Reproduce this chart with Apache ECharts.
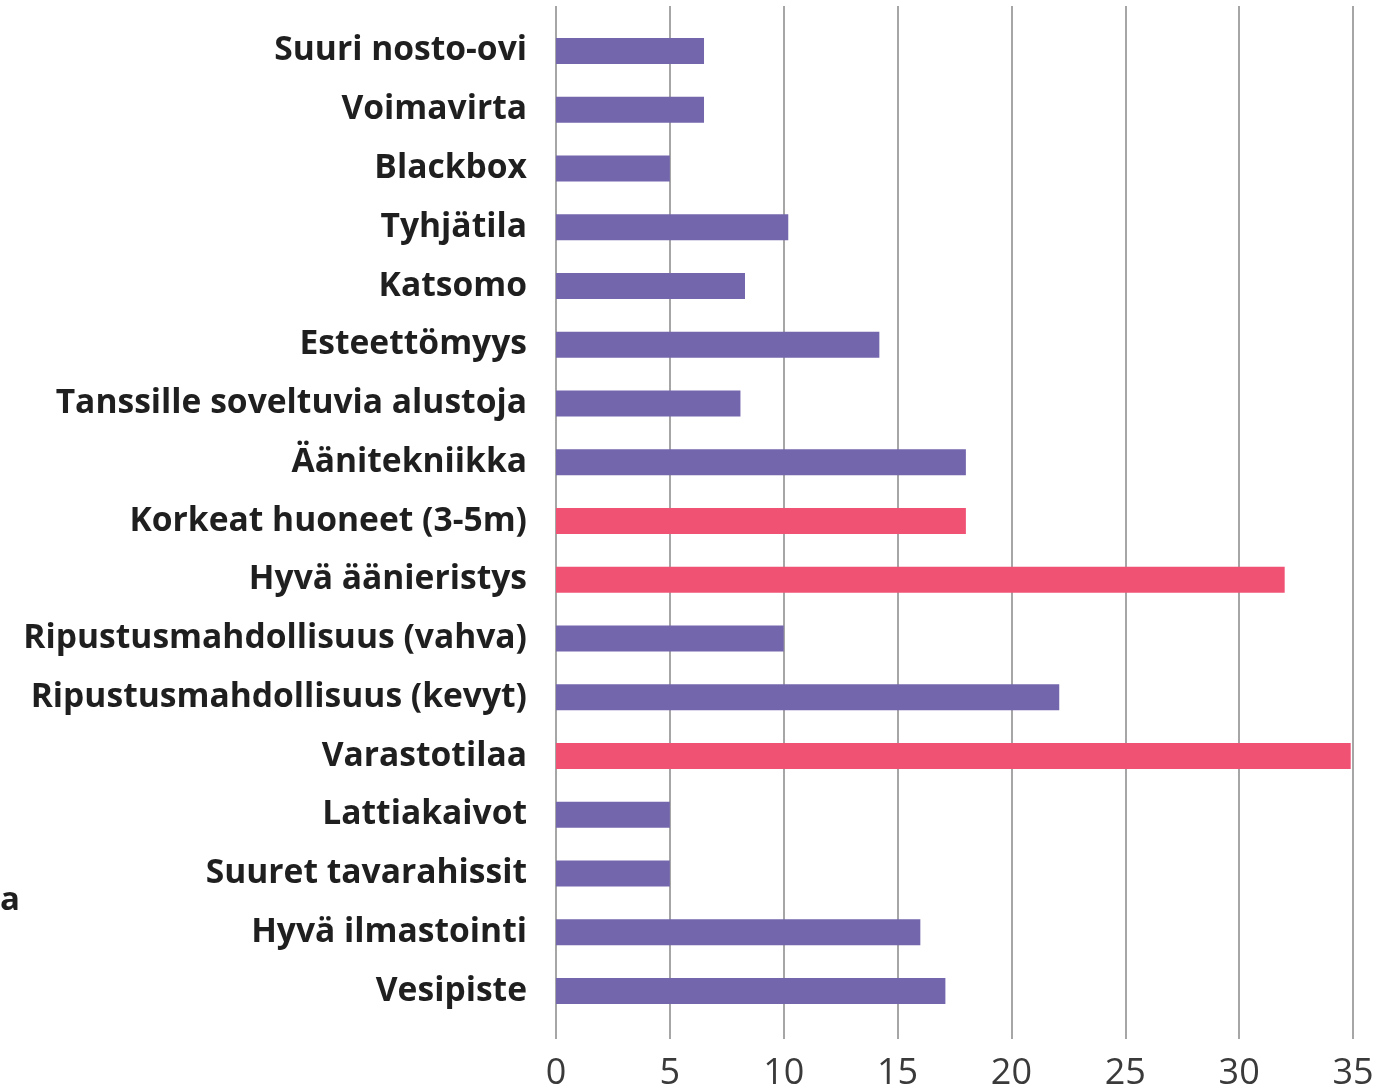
<!DOCTYPE html>
<html>
<head>
<meta charset="utf-8">
<script src="https://cdn.jsdelivr.net/npm/echarts@6/dist/echarts.min.js"></script>
<style>
  html, body { margin: 0; padding: 0; background: #fff; }
  #chart { width: 1391px; height: 1092px; }
</style>
</head>
<body>
<div id="chart"></div>
<script>
// Categories, top to bottom
const categories = [
  'Suuri nosto-ovi',
  'Voimavirta',
  'Blackbox',
  'Tyhjätila',
  'Katsomo',
  'Esteettömyys',
  'Tanssille soveltuvia alustoja',
  'Äänitekniikka',
  'Korkeat huoneet (3-5m)',
  'Hyvä äänieristys',
  'Ripustusmahdollisuus (vahva)',
  'Ripustusmahdollisuus (kevyt)',
  'Varastotilaa',
  'Lattiakaivot',
  'Suuret tavarahissit',
  'Hyvä ilmastointi',
  'Vesipiste'
];
const values = [6.5, 6.5, 5, 10.2, 8.3, 14.2, 8.1, 18, 18, 32, 10, 22.1, 34.9, 5, 5, 16, 17.1];
// highlighted categories drawn in red
const highlighted = ['Korkeat huoneet (3-5m)', 'Hyvä äänieristys', 'Varastotilaa'];
const xTicks = [0, 5, 10, 15, 20, 25, 30, 35];

const purple = '#7466ad';
const red = '#f05274';

const barData = values.map((v, i) => ({
  value: v,
  itemStyle: { color: highlighted.includes(categories[i]) ? red : purple }
}));

const chart = echarts.init(document.getElementById('chart'));

chart.setOption({
  animation: false,
  grid: [
    // grid for the vertical lines and x labels
    { left: 556, right: 38, top: 6, bottom: 50 },
    // grid for bars and category labels
    { left: 556, right: 38, top: 21.5, bottom: 71.5 }
  ],
  xAxis: [
    {
      gridIndex: 0,
      type: 'value',
      min: xTicks[0],
      max: xTicks[xTicks.length - 1],
      interval: 5,
      axisLine: { show: false },
      axisTick: { show: false },
      splitLine: { show: true, lineStyle: { color: '#a6a6a6', width: 2 } },
      axisLabel: {
        fontFamily: 'Open Sans',
        fontSize: 36,
        color: '#3a3a3a',
        margin: 17
      }
    },
    {
      gridIndex: 1,
      type: 'value',
      min: 0,
      max: 35,
      show: false
    }
  ],
  yAxis: [
    {
      gridIndex: 0,
      type: 'category',
      data: categories,
      show: false
    },
    {
      gridIndex: 1,
      type: 'category',
      inverse: true,
      data: categories,
      axisLine: { show: false },
      axisTick: { show: false },
      splitLine: { show: false },
      axisLabel: {
        fontFamily: 'Open Sans',
        fontWeight: 'bold',
        fontSize: 33.6,
        color: '#1f1f1f',
        margin: 29
      }
    }
  ],
  series: [
    {
      type: 'bar',
      xAxisIndex: 1,
      yAxisIndex: 1,
      data: barData,
      barWidth: 26,
      z: 3
    }
  ],
  graphic: [
    {
      type: 'text',
      left: 0,
      top: 884,
      style: {
        text: 'a',
        font: 'bold 33px "Open Sans"',
        fill: '#1f1f1f'
      }
    }
  ]
});
</script>
</body>
</html>
